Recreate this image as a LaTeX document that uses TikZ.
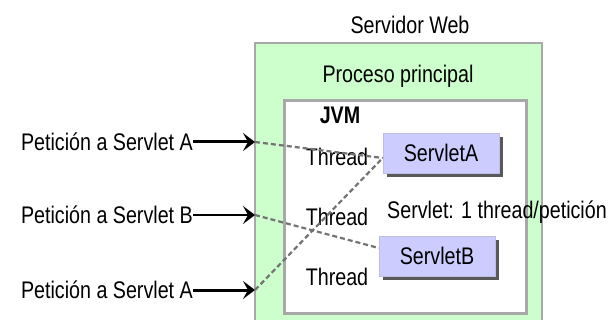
\documentclass[tikz,border=0pt]{standalone}
\usepackage{fontspec}
\setmainfont[FakeStretch=0.82]{Liberation Sans}
\usetikzlibrary{arrows.meta,positioning,shadows}
\definecolor{verdeweb}{HTML}{CCFFCC}
\definecolor{lila}{HTML}{CCCCFF}
\definecolor{gris}{HTML}{A8A8A8}
\begin{document}
\begin{tikzpicture}[x=1pt,y=-1pt,font=\fontsize{24}{26}\selectfont,
  servlet/.style={draw=lila!80!gray,fill=lila,line width=0.6pt,minimum width=116pt,minimum height=40pt,inner sep=0pt,
    drop shadow={shadow xshift=4pt,shadow yshift=-4pt,fill=black!65,opacity=1}},
  hilo/.style={text=black},
  peticion/.style={anchor=east,inner sep=0pt},
  llega/.style={-{Stealth[length=12pt,width=18pt,inset=5pt]},line width=3pt},
  enlace/.style={draw=black!55,line width=2.2pt,dash pattern=on 5pt off 3pt}]
\useasboundingbox (0,0) rectangle (612,320);
\clip (0,0) rectangle (612,320);
%servidor y jvm%
\draw[fill=verdeweb,draw=gris,line width=2pt] (255,43) rectangle (542,340);
\draw[fill=white,draw=gris,line width=3pt] (284,101) rectangle (526,313);
\node (web) at (410,25) {Servidor Web};
\node (proc) at (398,76) {Proceso principal};
\node[font=\fontsize{24}{26}\selectfont\bfseries] (jvm) at (340,115) {JVM};
%servlets%
\node[servlet] (sa) at (441,153) {ServletA};
\node[servlet] (sb) at (437,256) {ServletB};
\node (nota) at (497,212) {Servlet: 1 thread/petición};
%threads%
\node[hilo] (t1) at (337,157) {Thread};
\node[hilo] (t2) at (337,217) {Thread};
\node[hilo] (t3) at (337,277) {Thread};
%peticiones%
\coordinate (e1) at (255,142);
\coordinate (e2) at (255,215);
\coordinate (e3) at (255,290);
\node[peticion] (p1) at (193,142) {Petición a Servlet A};
\node[peticion] (p2) at (193,215) {Petición a Servlet B};
\node[peticion] (p3) at (193,290) {Petición a Servlet A};
\draw[llega] (p1) -- (e1);
\draw[llega,line width=2pt] (p2) -- (e2);
\draw[llega] (p3) -- (e3);
%hilos hacia los servlets%
\draw[enlace] (e1) -- ([yshift=-5pt]sa.west);
\draw[enlace] (e2) -- ([yshift=8pt]sb.west);
\draw[enlace] (e3) -- ([yshift=-5pt]sa.west);
\end{tikzpicture}
\end{document}
